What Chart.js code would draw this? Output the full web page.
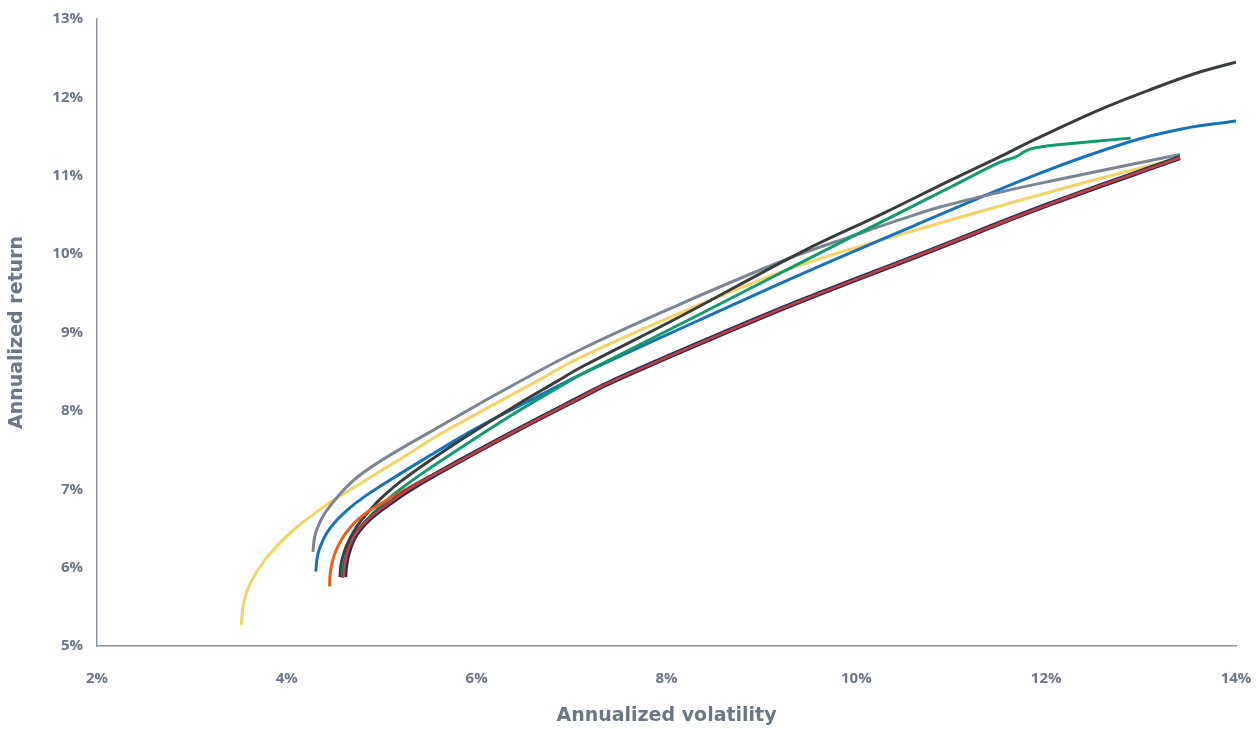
<!DOCTYPE html>
<html>
<head>
<meta charset="utf-8">
<script src="https://cdn.jsdelivr.net/npm/chart.js@4"></script>
<style>
  body { margin: 0; background: #fff; }
  #wrap { width: 1258px; height: 729px; }
</style>
</head>
<body>
<div id="wrap"><canvas id="frontierChart"></canvas></div>
<script>
// Volatility (x) and return (y) in %
const yellowX = [3.52, 3.545, 3.60, 3.70, 3.83, 4.07, 4.43, 4.81, 5.20, 5.64, 6.62, 7.09, 8.40, 9.41, 10.72, 12.03, 13.41];
const yellowY = [5.27, 5.55, 5.76, 5.98, 6.19, 6.48, 6.81, 7.10, 7.39, 7.72, 8.37, 8.68, 9.38, 9.86, 10.34, 10.79, 11.23];

const greyX = [4.275, 4.29, 4.32, 4.42, 4.69, 5.00, 5.58, 6.00, 6.40, 7.09, 8.14, 9.13, 9.41, 9.93, 10.46, 10.91, 11.51, 12.04, 13.41];
const greyY = [6.20, 6.37, 6.50, 6.73, 7.10, 7.37, 7.78, 8.07, 8.34, 8.78, 9.36, 9.87, 10.00, 10.22, 10.44, 10.61, 10.79, 10.93, 11.27];

const blueX = [4.305, 4.32, 4.35, 4.42, 4.53, 4.66, 4.80, 5.00, 5.48, 6.00, 6.67, 7.09, 8.33, 9.41, 10.72, 11.93, 12.87, 13.44, 14.0];
const blueY = [5.95, 6.13, 6.26, 6.44, 6.61, 6.76, 6.89, 7.05, 7.41, 7.78, 8.20, 8.46, 9.15, 9.74, 10.42, 11.03, 11.43, 11.60, 11.70];

const darkX = [4.56, 4.57, 4.60, 4.63, 4.70, 4.77, 4.88, 4.98, 5.20, 5.50, 5.82, 6.40, 6.85, 7.09, 8.17, 9.41, 10.30, 10.99, 11.51, 11.86, 12.56, 13.08, 13.61, 14.0];
const darkY = [5.88, 6.03, 6.18, 6.28, 6.45, 6.58, 6.74, 6.87, 7.10, 7.36, 7.62, 8.06, 8.38, 8.55, 9.22, 10.02, 10.53, 10.94, 11.24, 11.45, 11.84, 12.09, 12.32, 12.45];

const greenX = [4.585, 4.60, 4.63, 4.69, 4.77, 4.88, 5.00, 5.13, 5.40, 5.82, 6.40, 6.96, 7.09, 8.33, 9.38, 10.46, 11.00, 11.51, 11.68, 11.76, 11.83, 11.95, 12.15, 12.89];
const greenY = [5.87, 6.05, 6.18, 6.33, 6.49, 6.66, 6.80, 6.94, 7.18, 7.52, 7.97, 8.37, 8.46, 9.22, 9.87, 10.53, 10.86, 11.17, 11.24, 11.30, 11.34, 11.37, 11.40, 11.48];

const orangeX = [4.45, 4.455, 4.47, 4.50, 4.55, 4.62, 4.72, 4.85, 5.05, 5.30, 5.82, 6.45, 7.09, 7.40, 8.40, 9.41, 10.73, 12.04, 13.41];
const orangeY = [5.76, 5.90, 6.02, 6.16, 6.30, 6.44, 6.58, 6.71, 6.86, 7.03, 7.37, 7.78, 8.18, 8.36, 8.89, 9.40, 10.02, 10.64, 11.23];

const navyX = [4.61, 4.62, 4.65, 4.70, 4.77, 4.88, 5.06, 5.30, 5.82, 6.45, 7.09, 7.40, 8.40, 9.41, 10.73, 12.04, 13.41];
const navyY = [5.88, 6.03, 6.20, 6.36, 6.49, 6.63, 6.80, 7.00, 7.36, 7.77, 8.17, 8.36, 8.89, 9.40, 10.02, 10.64, 11.23];

const redX = [4.60, 4.61, 4.64, 4.69, 4.76, 4.87, 5.05, 5.30, 5.82, 6.45, 7.09, 7.40, 8.40, 9.41, 10.73, 12.04, 13.41];
const redY = [5.88, 6.03, 6.20, 6.36, 6.49, 6.63, 6.80, 7.01, 7.36, 7.77, 8.17, 8.36, 8.89, 9.40, 10.02, 10.64, 11.23];

const xTicks = [2, 4, 6, 8, 10, 12, 14];
const yTicks = [5, 6, 7, 8, 9, 10, 11, 12, 13];

const textColor = '#6b7689';
const axisColor = '#8c95a2';

function pts(xs, ys) {
    return xs.map((x, i) => ({x: x, y: ys[i]}));
}

function line(xs, ys, color, width) {
    return {
        data: pts(xs, ys),
        borderColor: color,
        backgroundColor: color,
        borderWidth: width,
        showLine: true,
        pointRadius: 0,
        pointHoverRadius: 0,
        tension: 0.4,
        fill: false
    };
}

// first dataset is drawn on top
const ctx = document.getElementById('frontierChart').getContext('2d');
const frontierChart = new Chart(ctx, {
    type: 'scatter',
    data: {
        datasets: [
            line(redX, redY, '#c1413b', 2.6),
            line(navyX, navyY, '#272a60', 5),
            line(orangeX, orangeY, '#e6601b', 3),
            line(greenX, greenY, '#0f9b6c', 3),
            line(darkX, darkY, '#393d3b', 3),
            line(greyX, greyY, '#7b8594', 3),
            line(blueX, blueY, '#1673bb', 3),
            line(yellowX, yellowY, '#f6d365', 3)
        ]
    },
    options: {
        responsive: true,
        maintainAspectRatio: false,
        animation: false,
        layout: {
            padding: {top: 19, right: 22, left: 0, bottom: 0}
        },
        plugins: {
            legend: {display: false},
            tooltip: {enabled: false}
        },
        scales: {
            x: {
                type: 'linear',
                min: 2,
                max: 14,
                afterBuildTicks: function(scale) {
                    scale.ticks = xTicks.map(v => ({value: v}));
                },
                afterFit: function(scale) {
                    scale.height = 83;
                    scale.paddingLeft = 0;
                    scale.paddingRight = 0;
                },
                grid: {display: false, drawTicks: false},
                border: {color: axisColor, width: 1.5},
                ticks: {
                    padding: 24,
                    color: textColor,
                    font: {family: 'Open Sans', weight: 'bold', size: 15},
                    callback: v => v + '%'
                },
                title: {
                    display: true,
                    text: 'Annualized volatility',
                    color: textColor,
                    font: {family: 'DejaVu Sans', weight: 'bold', size: 19},
                    padding: {top: 0, bottom: 2}
                }
            },
            y: {
                type: 'linear',
                min: 5,
                max: 13,
                afterBuildTicks: function(scale) {
                    scale.ticks = yTicks.map(v => ({value: v}));
                },
                afterFit: function(scale) {
                    scale.width = 97;
                    scale.paddingTop = 0;
                    scale.paddingBottom = 0;
                },
                grid: {display: false, drawTicks: false},
                border: {color: axisColor, width: 1.5},
                ticks: {
                    padding: 14,
                    color: textColor,
                    font: {family: 'Open Sans', weight: 'bold', size: 15},
                    callback: v => v + '%'
                },
                title: {
                    display: true,
                    text: 'Annualized return',
                    color: textColor,
                    font: {family: 'DejaVu Sans', weight: 'bold', size: 19},
                    padding: {top: 6, bottom: 0}
                }
            }
        }
    }
});
</script>
</body>
</html>
